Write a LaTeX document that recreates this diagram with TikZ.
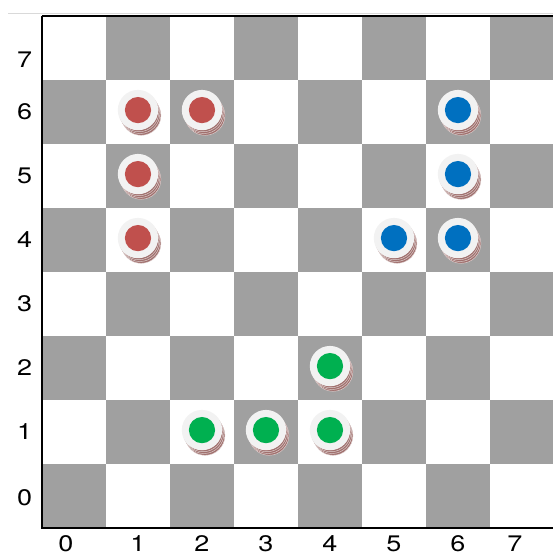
\documentclass[tikz,border=0pt]{standalone}
\usepackage{fontspec}
\setmainfont{TeX Gyre Heros}
\usepackage{xcolor}
\usetikzlibrary{positioning}

\definecolor{sqgray}{RGB}{160,160,160}
\definecolor{discwhite}{RGB}{242,242,242}
\definecolor{shadowcol}{RGB}{160,112,110}
\definecolor{pcred}{RGB}{192,80,77}
\definecolor{pcblue}{RGB}{0,112,192}
\definecolor{pcgreen}{RGB}{0,176,80}

\begin{document}
\begin{tikzpicture}[x=1cm, y=1cm,
    checker/.style={circle, fill=discwhite, minimum size=0.63cm, inner sep=0pt},
    dot/.style={circle, minimum size=0.41cm, inner sep=0pt},
    lbl/.style={font=\fontsize{10}{12}\selectfont, inner sep=0pt}]
    \useasboundingbox (-0.656,-0.406) rectangle (7.969,8.25);
    \fill[white] (-0.656,-0.406) rectangle (7.969,8.25);
    % board squares
    \foreach \i in {0,...,7}
      \foreach \j in {0,...,7} {
        \pgfmathtruncatemacro{\parity}{mod(\i+\j,2)}
        \ifnum\parity=0 \fill[sqgray] (\i,\j) rectangle ++(1,1); \fi
      }
    % frame
    \draw[black!15, line width=0.4pt] (-0.53,8.035) -- (8,8.035);
    \draw[line width=0.6pt] (0,8) -- (8,8);
    \draw[line width=0.9pt] (0,8) -- (0,0) -- (8,0);
    % axis numbers (end ones pulled inwards)
    \foreach \k/\px in {0/0.375, 1/1.5, 2/2.5, 3/3.5, 4/4.5, 5/5.5, 6/6.5, 7/7.39}
      \node[lbl] (x\k) at (\px,-0.25) {\scalebox{1.2}[1]{\k}};
    \foreach \k/\py in {0/0.48, 1/1.5, 2/2.5, 3/3.5, 4/4.5, 5/5.5, 6/6.5, 7/7.31}
      \node[lbl] (y\k) at (-0.27,\py) {\scalebox{1.2}[1]{\k}};
    % pieces
    \foreach \c/\x/\y [count=\n] in {pcred/1/6, pcred/2/6, pcred/1/5, pcred/1/4,
        pcblue/6/6, pcblue/6/5, pcblue/5/4, pcblue/6/4,
        pcgreen/4/2, pcgreen/2/1, pcgreen/3/1, pcgreen/4/1} {
      \foreach \s in {3,2,1}
        \filldraw[fill=shadowcol, draw=white!70!shadowcol, line width=0.2pt]
          (\x+0.5+0.016*\s, \y+0.53-0.028*\s) circle (0.31);
      \node[checker] (p\n) at (\x+0.5,\y+0.53) {};
      \node[dot, fill=\c] (d\n) at (p\n.center) {};
    }
\end{tikzpicture}
\end{document}
